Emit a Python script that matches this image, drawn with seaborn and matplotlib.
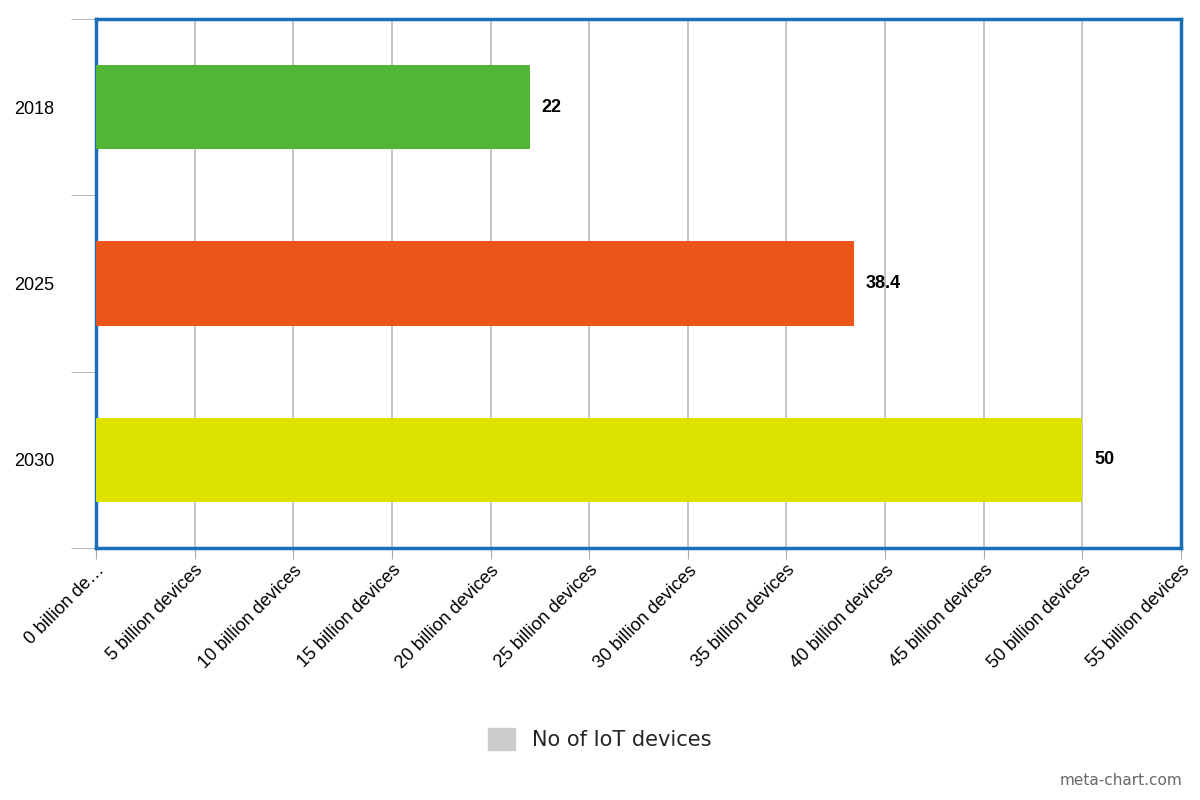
import matplotlib
matplotlib.use("Agg")
import matplotlib.pyplot as plt
import seaborn as sns
import pandas as pd
from matplotlib.patches import Patch

years = ["2018", "2025", "2030"]
devices = [22, 38.4, 50]
bar_colors = ["#52b536", "#ec561b", "#dde100"]
tick_values = list(range(0, 60, 5))
tick_labels = ["0 billion de…"] + [f"{v} billion devices" for v in tick_values[1:]]

df = pd.DataFrame({"year": years, "devices": devices})

sns.set_style("white")
plt.rcParams["font.family"] = ["Liberation Sans", "DejaVu Sans"]

fig = plt.figure(figsize=(12, 8), dpi=100)
ax = fig.add_axes([96 / 1200, 1 - 548 / 800, 1085 / 1200, 529 / 800])

sns.barplot(data=df, x="devices", y="year", hue="year", palette=bar_colors,
            orient="h", width=0.48, legend=False, ax=ax, saturation=1,
            edgecolor="none", linewidth=0, zorder=3)

ax.set_xlim(0, 55)
ax.set_ylim(2.5, -0.5)
ax.set_xticks(tick_values)
ax.set_xticklabels(tick_labels, rotation=45, ha="right", rotation_mode="anchor", fontsize=13)
ax.xaxis.grid(True, color="#bbbbbb", linewidth=1.2, zorder=0)
ax.tick_params(axis="x", bottom=True, length=8, color="#aaaaaa", pad=2, labelcolor="black")
ax.set_xlabel("")
ax.set_ylabel("")

# category labels without ticks, ticks at band boundaries
ax.tick_params(axis="y", which="major", left=True, length=0, labelsize=13, pad=30, labelcolor="black")
ax.set_yticks([-0.5, 0.5, 1.5, 2.5], minor=True)
ax.tick_params(axis="y", which="minor", left=True, length=18, color="#aaaaaa")

for s in ax.spines.values():
    s.set_color("#1a70b8")
    s.set_linewidth(2.5)

for i, v in enumerate(devices):
    ax.text(v + 0.6, i, f"{v:g}", va="center", ha="left", fontsize=13, fontweight="bold", color="black")

fig.legend(handles=[Patch(color="#cccccc")], labels=["No of IoT devices"],
           loc="center", bbox_to_anchor=(0.5, 1 - 739 / 800), frameon=False,
           handlelength=1.3, handleheight=1.3, prop={"family": "DejaVu Sans", "size": 15})
fig.text(0.985, 0.015, "meta-chart.com", ha="right", va="bottom", fontsize=11, color="#666666",
         family="DejaVu Sans")

fig.savefig("out.png", dpi=100)
